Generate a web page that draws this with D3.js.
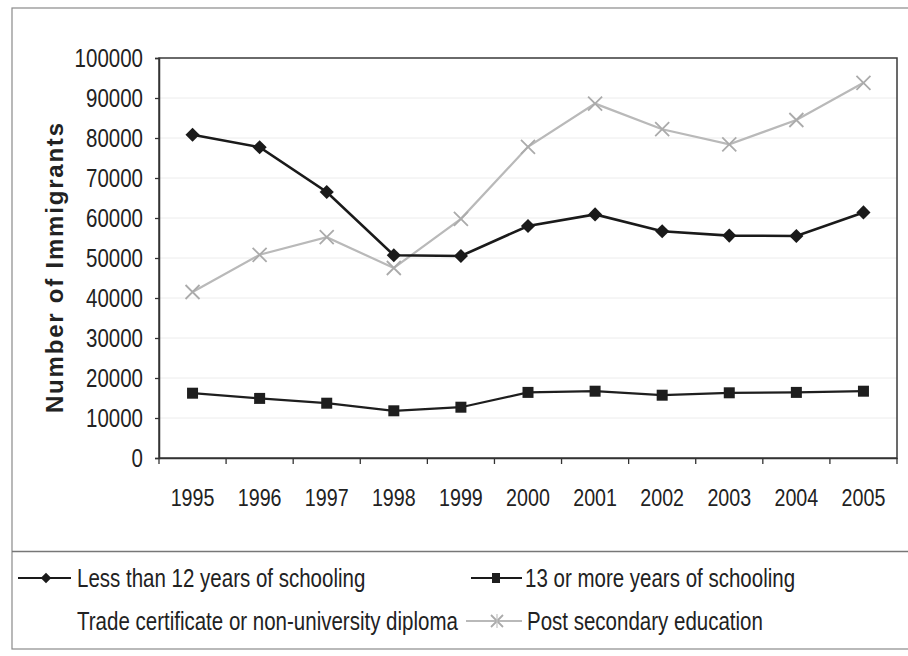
<!DOCTYPE html>
<html>
<head>
<meta charset="utf-8">
<script src="https://cdn.jsdelivr.net/npm/d3@7"></script>
<style>
  html, body { margin: 0; padding: 0; background: #fff; }
  svg { display: block; }
  text { font-family: "Liberation Sans", Arial, sans-serif; fill: #222; }
</style>
</head>
<body>
<svg id="chart" width="908" height="656"></svg>
<script>
// Immigrants by education level, 1995–2005
const years = ["1995","1996","1997","1998","1999","2000","2001","2002","2003","2004","2005"];
const lessThan12 = [80800, 77700, 66500, 50700, 50500, 58000, 60900, 56700, 55600, 55500, 61400];
const thirteenOrMore = [16200, 14900, 13700, 11800, 12700, 16400, 16700, 15700, 16300, 16400, 16700];
const postSecondary = [41500, 50800, 55200, 47500, 59800, 77800, 88600, 82200, 78400, 84500, 93800];
const yTicks = [0, 10000, 20000, 30000, 40000, 50000, 60000, 70000, 80000, 90000, 100000];
const seriesNames = [
  "Less than 12 years of schooling",
  "13 or more years of schooling",
  "Trade certificate or non-university diploma",
  "Post secondary education"
];

const NARROW = 0.82;   // horizontal squeeze for the condensed type
const svg = d3.select("#chart");

const plot = { left: 159, right: 897, top: 58, bottom: 458 };
const x = d3.scaleBand().domain(years).range([plot.left, plot.right]);
const y = d3.scaleLinear().domain([0, 100000]).range([plot.bottom, plot.top]);
const cx = d => x(d) + x.bandwidth() / 2;

// outer frame and legend separator
svg.append("rect").attr("x", 12).attr("y", 8).attr("width", 910).attr("height", 641)
  .attr("fill", "none").attr("stroke", "#8a8a8a").attr("stroke-width", 1.2);
svg.append("line").attr("x1", 12).attr("x2", 908).attr("y1", 551.5).attr("y2", 551.5)
  .attr("stroke", "#777").attr("stroke-width", 1.3);

// faint horizontal gridlines
svg.append("g").selectAll("line").data(yTicks.slice(1, -1)).join("line")
  .attr("x1", plot.left).attr("x2", plot.right)
  .attr("y1", d => y(d)).attr("y2", d => y(d))
  .attr("stroke", "#ececec").attr("stroke-width", 1);

// plot area border
svg.append("rect").attr("x", plot.left).attr("y", plot.top)
  .attr("width", plot.right - plot.left).attr("height", plot.bottom - plot.top)
  .attr("fill", "none").attr("stroke", "#3a3a3a").attr("stroke-width", 1.5);

// y axis
const yAxis = svg.append("g").attr("transform", `translate(${plot.left},0)`)
  .call(d3.axisLeft(y).tickValues(yTicks).tickFormat(d3.format("d")).tickSize(4).tickPadding(12));
yAxis.select(".domain").attr("stroke", "#333").attr("stroke-width", 1.5);
yAxis.selectAll(".tick line").attr("stroke", "#333").attr("stroke-width", 1.3);
yAxis.selectAll(".tick text")
  .attr("font-size", 25).attr("font-family", "Liberation Sans, Arial, sans-serif").attr("fill", "#222")
  .each(function () {
    const t = d3.select(this);
    const tx = +t.attr("x");
    t.attr("x", 0).attr("transform", `translate(${tx},0) scale(${NARROW},1)`);
  });

// x axis: labels centred in each band, tick marks on band boundaries
const xAxis = svg.append("g").attr("transform", `translate(0,${plot.bottom})`)
  .call(d3.axisBottom(x).tickSize(0).tickPadding(31));
xAxis.select(".domain").attr("stroke", "#333").attr("stroke-width", 1.5);
xAxis.selectAll(".tick text")
  .attr("font-size", 24).attr("font-family", "Liberation Sans, Arial, sans-serif").attr("fill", "#222")
  .each(function () {
    const t = d3.select(this);
    const ty = +t.attr("y");
    t.attr("y", 0).attr("transform", `translate(0,${ty}) scale(${NARROW},1)`);
  });
const boundaries = years.map(d => x(d)).concat([x(years[years.length - 1]) + x.bandwidth()]);
svg.append("g").selectAll("line").data(boundaries).join("line")
  .attr("x1", d => d).attr("x2", d => d)
  .attr("y1", plot.bottom).attr("y2", plot.bottom + 6)
  .attr("stroke", "#333").attr("stroke-width", 1.3);

// y axis title
svg.append("text")
  .attr("transform", "translate(63,268) rotate(-90)")
  .attr("text-anchor", "middle")
  .attr("font-size", 24).attr("font-weight", "bold")
  .attr("textLength", 290).attr("lengthAdjust", "spacing")
  .text("Number of Immigrants");

const line = d3.line().x((d, i) => cx(years[i])).y(d => y(d));
const diamond = d3.symbol().type(d3.symbolSquare).size(100);
const square = d3.symbol().type(d3.symbolSquare).size(121);

// post secondary education (light grey, x markers)
svg.append("path").datum(postSecondary).attr("d", line)
  .attr("fill", "none").attr("stroke", "#b9b9b9").attr("stroke-width", 2.2);
const xMark = (g, r) => g.append("path")
  .attr("d", `M${-r},${-r}L${r},${r}M${-r},${r}L${r},${-r}`)
  .attr("stroke", "#ababab").attr("stroke-width", 1.8).attr("fill", "none");
svg.append("g").selectAll("g").data(postSecondary).join("g")
  .attr("transform", (d, i) => `translate(${cx(years[i])},${y(d)})`)
  .each(function () { xMark(d3.select(this), 7); });

// 13 or more years (dark line, square markers)
svg.append("path").datum(thirteenOrMore).attr("d", line)
  .attr("fill", "none").attr("stroke", "#1e1e1e").attr("stroke-width", 2.2);
svg.append("g").selectAll("path").data(thirteenOrMore).join("path")
  .attr("d", square)
  .attr("transform", (d, i) => `translate(${cx(years[i])},${y(d)})`)
  .attr("fill", "#1e1e1e");

// less than 12 years (dark line, diamond markers)
svg.append("path").datum(lessThan12).attr("d", line)
  .attr("fill", "none").attr("stroke", "#1a1a1a").attr("stroke-width", 2.6);
svg.append("g").selectAll("path").data(lessThan12).join("path")
  .attr("d", diamond)
  .attr("transform", (d, i) => `translate(${cx(years[i])},${y(d)}) rotate(45)`)
  .attr("fill", "#1a1a1a");

// legend
const legendItems = [
  { name: seriesNames[0], row: 0, lx: [18, 71], mx: 46, tx: 77, kind: "diamond" },
  { name: seriesNames[1], row: 0, lx: [471, 522], mx: 496, tx: 525, kind: "square" },
  { name: seriesNames[2], row: 1, lx: null, mx: null, tx: 77, kind: "none" },
  { name: seriesNames[3], row: 1, lx: [466, 522], mx: 497, tx: 527, kind: "x" }
];
const rowBase = [587, 630];
const lg = svg.append("g");
legendItems.forEach(it => {
  const base = rowBase[it.row];
  const my = base - 9;
  if (it.lx) {
    lg.append("line").attr("x1", it.lx[0]).attr("x2", it.lx[1]).attr("y1", my).attr("y2", my)
      .attr("stroke", it.kind === "x" ? "#b9b9b9" : "#1a1a1a").attr("stroke-width", 2.2);
  }
  if (it.kind === "diamond") {
    lg.append("path").attr("d", d3.symbol().type(d3.symbolSquare).size(56))
      .attr("transform", `translate(${it.mx},${my}) rotate(45)`).attr("fill", "#1a1a1a");
  } else if (it.kind === "square") {
    lg.append("rect").attr("x", it.mx - 4).attr("y", my - 5).attr("width", 8).attr("height", 10)
      .attr("fill", "#1e1e1e");
  } else if (it.kind === "x") {
    const g = lg.append("g").attr("transform", `translate(${it.mx},${my})`);
    xMark(g, 6);
    g.append("line").attr("x1", 0).attr("x2", 0).attr("y1", -7).attr("y2", 7)
      .attr("stroke", "#c4c4c4").attr("stroke-width", 1.2);
  }
  lg.append("text")
    .attr("transform", `translate(${it.tx},${base}) scale(${NARROW},1)`)
    .attr("font-size", 25)
    .text(it.name);
});
</script>
</body>
</html>
